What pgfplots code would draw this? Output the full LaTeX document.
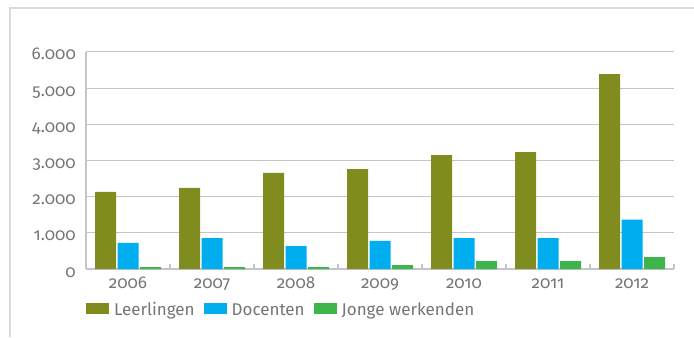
\documentclass[border=0pt]{standalone}
\usepackage{pgfplots}
\pgfplotsset{compat=1.18}
\usepackage{fontspec}
\setmainfont{Fira Sans}[Numbers=OldStyle]
\definecolor{leerl}{HTML}{818C1F}
\definecolor{docent}{HTML}{00AEEF}
\definecolor{jonge}{HTML}{3DB54A}
\definecolor{txtgray}{HTML}{757575}
\definecolor{gridgray}{HTML}{C4C4CC}
\definecolor{framegray}{HTML}{DADADA}
\begin{document}
\begin{tikzpicture}[x=1bp,y=1bp]
\useasboundingbox (0,0) rectangle (694,337);
\draw[framegray, line width=1.5bp] (10,0) -- (10,329) -- (694,329);
\begin{axis}[
  at={(86bp,68bp)}, anchor=south west,
  scale only axis, width=588bp, height=217bp,
  ybar=1.5bp, bar width=21bp,
  xmin=-0.5, xmax=6.5, ymin=0, ymax=6000,
  axis lines*=left,
  axis line style={draw=gridgray, line width=1.3bp},
  ymajorgrids, major grid style={draw=gridgray, line width=1bp},
  ytick={0,1000,...,6000},
  yticklabels={0,1.000,2.000,3.000,4.000,5.000,6.000},
  xtick={0,...,6},
  xticklabels={2006,2007,2008,2009,2010,2011,2012},
  major tick length=0pt,
  minor xtick={-0.5,0.5,...,6.5},
  minor tick length=5bp, tick align=inside,
  minor tick style={draw=gridgray, line width=1.3bp},
  tick label style={font=\fontsize{17bp}{20bp}\selectfont, text=txtgray, inner sep=0pt},
  yticklabel style={anchor=base east, xshift=-10bp, yshift=-8bp},
  xticklabel style={anchor=base, yshift=-19bp},
  legend columns=3,
  legend image code/.code={\fill[#1,draw=none] (0bp,-2.2bp) rectangle (23bp,8.8bp);},
  legend style={at={(axis description cs:0,0)}, anchor=north west, yshift=-34.2bp,
    draw=none, fill=none, inner sep=0pt, outer sep=0pt,
    font=\fontsize{17bp}{20bp}\selectfont, text=txtgray,
    nodes={inner sep=0pt, text height=11bp, text depth=4bp},
    /tikz/every odd column/.style={column sep=5bp},
    /tikz/every even column/.style={column sep=9bp}},
]
% Leerlingen
\addplot[fill=leerl, draw=none] coordinates {(0,2130) (1,2240) (2,2655) (3,2765) (4,3150) (5,3235) (6,5390)};
% Docenten
\addplot[fill=docent, draw=none] coordinates {(0,720) (1,855) (2,635) (3,775) (4,855) (5,855) (6,1365)};
% Jonge werkenden
\addplot[fill=jonge, draw=none] coordinates {(0,55) (1,55) (2,55) (3,110) (4,220) (5,220) (6,330)};
\legend{Leerlingen, Docenten, Jonge werkenden}
\end{axis}
\end{tikzpicture}
\end{document}
